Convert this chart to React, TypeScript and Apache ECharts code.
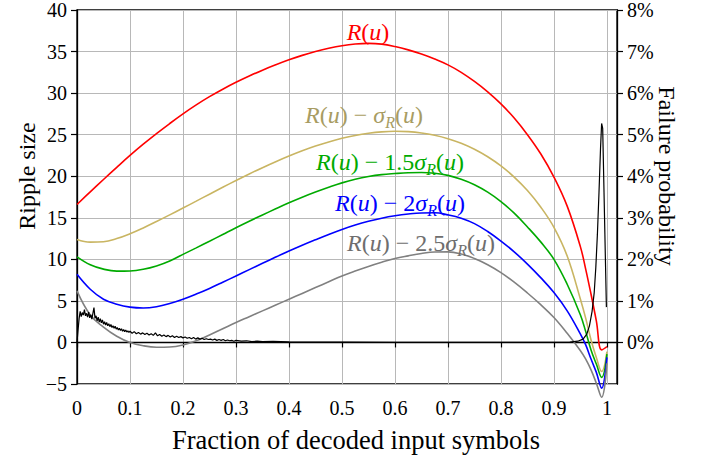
import React, { useEffect, useRef } from "react";
import * as echarts from "echarts";

// Fraction of decoded input symbols (x) for the ripple curves
const uGrid = [
  0, 0.025, 0.05, 0.075, 0.1, 0.125, 0.15, 0.175, 0.2, 0.225, 0.25, 0.275, 0.3, 0.325, 0.35, 0.375, 0.4, 0.425, 0.45, 0.475,
  0.5, 0.525, 0.55, 0.575, 0.6, 0.625, 0.65, 0.675, 0.7, 0.725, 0.75, 0.775, 0.8, 0.825, 0.85, 0.875, 0.9, 0.925, 0.95,
  0.96, 0.97, 0.98, 0.99, 1.0,
];
// R(u)
const rippleMean = [
  16.6, 18.12, 19.61, 21.07, 22.5, 23.85, 25.13, 26.34, 27.5, 28.58, 29.57, 30.47, 31.3, 32.06, 32.76, 33.4, 34.0, 34.54, 35.0, 35.39,
  35.7, 35.9, 35.98, 35.89, 35.6, 35.2, 34.7, 34.1, 33.4, 32.5, 31.4, 30.15, 28.7, 27.0, 25.0, 22.7, 19.9, 16.4, 11.5,
  8.8, 5.8, 2.6, -0.9, -0.5,
];
// R(u) - sigma_R(u)
const rippleMinus1 = [
  12.4, 12.07, 12.12, 12.5, 13.08, 13.78, 14.55, 15.35, 16.17, 17.0, 17.84, 18.67, 19.48, 20.27, 21.03, 21.75, 22.43, 23.06, 23.63, 24.13,
  24.56, 24.91, 25.17, 25.34, 25.41, 25.37, 25.21, 24.93, 24.52, 23.96, 23.24, 22.34, 21.24, 19.9, 18.28, 16.3, 13.85, 10.4, 5.2,
  2.9, 0.3, -1.8, -3.5, -1.1,
];
// R(u) - 1.5 sigma_R(u)
const rippleMinus15 = [
  10.3, 9.35, 8.82, 8.58, 8.6, 8.8, 9.2, 9.8, 10.6, 11.38, 12.18, 12.99, 13.8, 14.58, 15.34, 16.08, 16.8, 17.47, 18.09, 18.67,
  19.2, 19.63, 19.96, 20.19, 20.32, 20.42, 20.45, 20.35, 20.1, 19.63, 18.97, 18.08, 16.95, 15.56, 13.9, 12.1, 10.0, 7.0, 3.3,
  1.3, -0.9, -2.6, -4.2, -1.4,
];
// R(u) - 2 sigma_R(u)
const rippleMinus2 = [
  8.2, 6.4, 5.2, 4.6, 4.25, 4.15, 4.3, 4.68, 5.2, 5.82, 6.5, 7.24, 8.0, 8.76, 9.52, 10.27, 11.0, 11.7, 12.36, 13.0,
  13.6, 14.13, 14.58, 14.95, 15.24, 15.45, 15.58, 15.6, 15.35, 14.95, 14.3, 13.35, 12.2, 10.9, 9.43, 7.8, 6.0, 3.8, 1.0,
  -0.3, -2.0, -3.6, -5.5, -1.8,
];
// R(u) - 2.5 sigma_R(u)
const rippleMinus25 = [
  6.2, 3.3, 1.85, 0.75, 0.0, -0.4, -0.58, -0.55, -0.3, 0.2, 0.9, 1.65, 2.4, 3.1, 3.8, 4.5, 5.2, 5.9, 6.6, 7.3,
  8.0, 8.6, 9.15, 9.65, 10.1, 10.42, 10.7, 10.88, 10.9, 10.65, 10.1, 9.35, 8.4, 7.25, 5.95, 4.55, 3.0, 1.1, -1.0,
  -2.0, -3.3, -4.9, -6.6, -2.5,
];

// Failure probability (%), right axis
const failureU = [
  0, 0.002, 0.004, 0.006, 0.008, 0.01, 0.012, 0.014, 0.016, 0.018, 0.02, 0.022, 0.024, 0.026, 0.028, 0.03, 0.032, 0.034, 0.036, 0.038,
  0.04, 0.042, 0.044, 0.046, 0.048, 0.05, 0.052, 0.054, 0.056, 0.058, 0.06, 0.062, 0.064, 0.066, 0.068, 0.07, 0.072, 0.074, 0.076, 0.078,
  0.08, 0.082, 0.084, 0.086, 0.088, 0.09, 0.092, 0.094, 0.096, 0.098, 0.1,
  0.104, 0.108, 0.112, 0.116, 0.12, 0.124, 0.128, 0.132, 0.136, 0.14, 0.144, 0.148, 0.152, 0.156, 0.16, 0.164, 0.168, 0.172, 0.176, 0.18,
  0.184, 0.188, 0.192, 0.196, 0.2, 0.204, 0.208, 0.212, 0.216, 0.22, 0.224, 0.228, 0.232, 0.236, 0.24, 0.244, 0.248, 0.252, 0.256, 0.26,
  0.264, 0.268, 0.272, 0.276, 0.28, 0.284, 0.288, 0.292, 0.296, 0.3,
  0.31, 0.32, 0.33, 0.34, 0.35, 0.37, 0.4, 0.45, 0.5, 0.6, 0.7, 0.8, 0.9, 0.93, 0.945, 0.955, 0.962, 0.967, 0.972, 0.976,
  0.979, 0.982, 0.985, 0.988, 0.99, 0.992, 0.999,
];
const failurePct = [
  0.0, 0.3, 0.58, 0.75, 0.62, 0.72, 0.66, 0.79, 0.64, 0.7, 0.61, 0.73, 0.59, 0.67, 0.56, 0.7, 0.84, 0.58, 0.64, 0.52,
  0.61, 0.49, 0.57, 0.47, 0.54, 0.44, 0.5, 0.42, 0.48, 0.4, 0.45, 0.38, 0.43, 0.36, 0.4, 0.34, 0.39, 0.32, 0.36, 0.3,
  0.34, 0.29, 0.33, 0.27, 0.31, 0.26, 0.3, 0.25, 0.28, 0.24, 0.27,
  0.22, 0.26, 0.21, 0.24, 0.2, 0.23, 0.19, 0.22, 0.18, 0.21, 0.17, 0.23, 0.16, 0.19, 0.15, 0.18, 0.14, 0.17, 0.13, 0.16,
  0.12, 0.15, 0.12, 0.14, 0.11, 0.13, 0.1, 0.12, 0.09, 0.12, 0.08, 0.11, 0.08, 0.1, 0.07, 0.09, 0.07, 0.08, 0.06, 0.08,
  0.05, 0.07, 0.05, 0.07, 0.04, 0.06, 0.04, 0.05, 0.03, 0.05,
  0.03, 0.04, 0.02, 0.03, 0.02, 0.025, 0.015, 0.01, 0.01, 0.005, 0.004, 0.003, 0.003, 0.01, 0.03, 0.08, 0.2, 0.4, 0.75, 1.2,
  1.8, 2.6, 3.6, 4.7, 5.27, 5.15, 0.85,
];

const xTicks = ["0", "0.1", "0.2", "0.3", "0.4", "0.5", "0.6", "0.7", "0.8", "0.9", "1"];

const SERIF = "'Liberation Serif', 'Times New Roman', serif";

const curveColors = {
  mean: "#ff0000",
  m1: "#c9b562",
  m15: "#00aa00",
  m2: "#0000ff",
  m25: "#808080",
};

function pairs(xs: number[], ys: number[]) {
  return xs.map((x, i) => [x, ys[i]]);
}

function mathLabel(coef: string | null, color: string, x: number, y: number) {
  const fs = 24;
  const rich = {
    i: { fontFamily: SERIF, fontStyle: "italic", fontSize: fs, fill: color, lineHeight: 30 },
    r: { fontFamily: SERIF, fontSize: fs, fill: color, lineHeight: 30 },
    s: { fontFamily: SERIF, fontStyle: "italic", fontSize: 16, fill: color, lineHeight: 30, verticalAlign: "bottom" },
  };
  const text =
    coef === null
      ? "{i|R}{r|(}{i|u}{r|)}"
      : "{i|R}{r|(}{i|u}{r|) − " + coef + "}{i|σ}{s|R}{r|(}{i|u}{r|)}";
  return {
    type: "text",
    x,
    y,
    z: 100,
    style: { text, rich, align: "center", verticalAlign: "middle", fill: color, font: `${fs}px ${SERIF}` },
  };
}

export default function App() {
  const ref = useRef<HTMLDivElement>(null);
  useEffect(() => {
    if (!ref.current) return;
    const chart = echarts.init(ref.current, undefined, { renderer: "svg" });
    const lineBase = {
      type: "line",
      showSymbol: false,
      smooth: 0.4,
      clip: false,
      silent: true,
    };
    chart.setOption({
      animation: false,
      grid: { left: 77, right: 93, top: 10, bottom: 80, show: true, borderColor: "#000", borderWidth: 1.3, backgroundColor: "transparent" },
      xAxis: {
        type: "value",
        min: 0,
        max: 1.019,
        interval: 0.1,
        axisLine: { show: true, lineStyle: { color: "#000", width: 1.3 } },
        axisTick: { show: true, length: 5, lineStyle: { color: "#000", width: 1.2 } },
        splitLine: { show: true, lineStyle: { color: "#b8b8b8", width: 1 } },
        axisLabel: {
          margin: 14,
          color: "#000",
          fontFamily: SERIF,
          fontSize: 20,
          showMaxLabel: false,
          formatter: (v: number) => {
            const k = Math.round(v * 10);
            if (Math.abs(v * 10 - k) > 1e-6 || k > 10) return "";
            return xTicks[k];
          },
        },
      },
      yAxis: [
        {
          type: "value",
          min: -5,
          max: 40,
          interval: 5,
          axisLine: { show: true, lineStyle: { color: "#000", width: 1.3 } },
          axisTick: { show: true, length: 6, lineStyle: { color: "#000", width: 1.2 } },
          splitLine: { show: true, lineStyle: { color: "#b8b8b8", width: 1 } },
          axisLabel: {
            margin: 10,
            color: "#000",
            fontFamily: SERIF,
            fontSize: 20,
            formatter: (v: number) => (v < 0 ? "−" + Math.abs(v) : String(v)),
          },
        },
        {
          type: "value",
          position: "right",
          min: -1,
          max: 8,
          interval: 1,
          axisLine: { show: true, lineStyle: { color: "#000", width: 1.3 } },
          axisTick: { show: true, length: 6, lineStyle: { color: "#000", width: 1.2 }, customValues: [0, 1, 2, 3, 4, 5, 6, 7, 8] },
          splitLine: { show: false },
          axisLabel: {
            margin: 10,
            color: "#000",
            fontFamily: SERIF,
            fontSize: 20,
            customValues: [0, 1, 2, 3, 4, 5, 6, 7, 8],
            formatter: (v: number) => (v < 0 ? "" : v + "%"),
          },
        },
      ],
      series: [
        { ...lineBase, name: "R", data: pairs(uGrid, rippleMean), lineStyle: { color: curveColors.mean, width: 1.6 } },
        { ...lineBase, name: "R-1", data: pairs(uGrid, rippleMinus1), lineStyle: { color: curveColors.m1, width: 1.6 } },
        { ...lineBase, name: "R-1.5", data: pairs(uGrid, rippleMinus15), lineStyle: { color: curveColors.m15, width: 1.6 } },
        { ...lineBase, name: "R-2", data: pairs(uGrid, rippleMinus2), lineStyle: { color: curveColors.m2, width: 1.6 } },
        { ...lineBase, name: "R-2.5", data: pairs(uGrid, rippleMinus25), lineStyle: { color: curveColors.m25, width: 1.6 } },
        {
          type: "line",
          name: "Failure",
          yAxisIndex: 1,
          showSymbol: false,
          smooth: false,
          clip: false,
          silent: true,
          data: pairs(failureU, failurePct),
          lineStyle: { color: "#000", width: 1.2 },
          z: 5,
        },
      ],
      graphic: [
        mathLabel(null, "#ff0000", 368, 32),
        mathLabel("", "#a89c62", 364, 115),
        mathLabel("1.5", "#00aa00", 390, 162),
        mathLabel("2", "#0000ff", 400, 203),
        mathLabel("2.5", "#6e6e6e", 421, 243),
        {
          type: "text",
          x: 27,
          y: 176,
          rotation: Math.PI / 2,
          style: { text: "Ripple size", font: `24px ${SERIF}`, fill: "#000", align: "center", verticalAlign: "middle" },
        },
        {
          type: "text",
          x: 667,
          y: 176,
          rotation: -Math.PI / 2,
          style: { text: "Failure probability", font: `24px ${SERIF}`, fill: "#000", align: "center", verticalAlign: "middle" },
        },
        {
          type: "text",
          x: 356,
          y: 440,
          style: { text: "Fraction of decoded input symbols", font: `26.5px ${SERIF}`, fill: "#000", align: "center", verticalAlign: "middle" },
        },
      ],
    });
    return () => chart.dispose();
  }, []);
  return <div ref={ref} style={{ position: "fixed", left: 0, top: 0, width: 710, height: 464, background: "#fff" }} />;
}
